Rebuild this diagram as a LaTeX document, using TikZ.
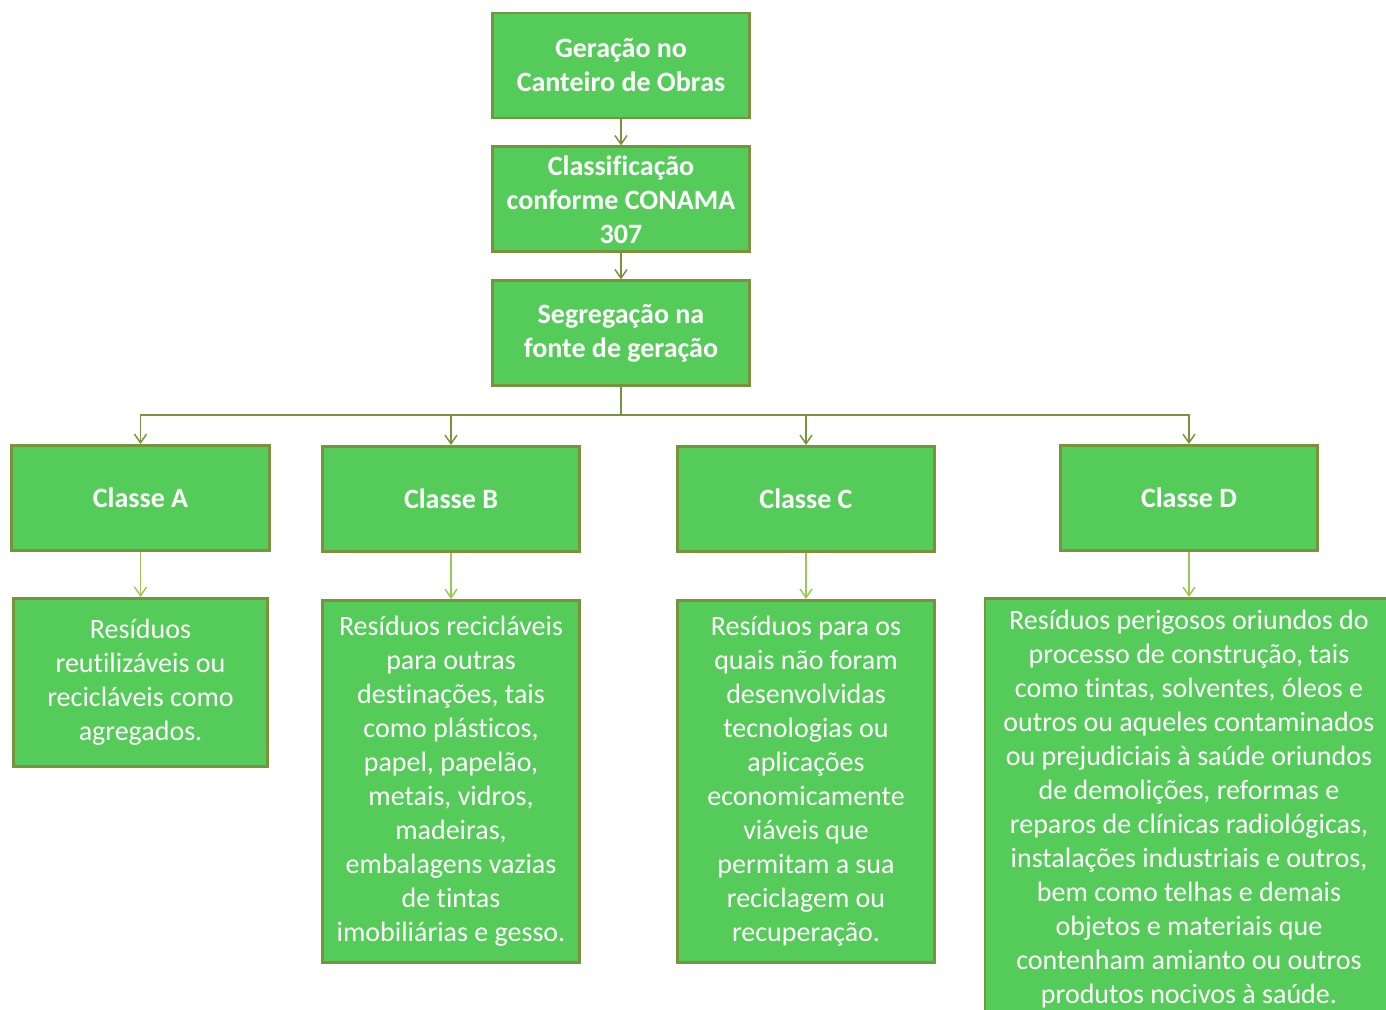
\documentclass[tikz,border=0pt]{standalone}
\usepackage{fontspec}
\setmainfont{Carlito}[Ligatures=CommonOff]
\usetikzlibrary{arrows.meta, positioning}
\definecolor{boxgreen}{HTML}{55CC5A}
\definecolor{boxedge}{HTML}{77933C}
\definecolor{lightline}{HTML}{9BC850}
\tikzset{
	block/.style={rectangle, draw=boxedge, fill=boxgreen, line width=2.2pt, text=white, align=center, font=\fontsize{21}{25.5}\selectfont, inner sep=2pt},
	head/.style={block, font=\fontsize{21}{25.5}\selectfont\bfseries, minimum width=193pt, minimum height=78.75pt},
	line/.style={draw=boxedge, line width=1.1pt, -{Straight Barb[length=6.5pt, width=9pt]}},
	subline/.style={line, draw=lightline}
}

\begin{document}
\begin{tikzpicture}[
	% one unit is one pixel of the reference
	x=0.75pt, y=-0.75pt,
	node distance=19.5pt
	]
	\clip (0,0) rectangle (1386,1010);
	
	% === NODES ===
	% Main column
	\node[head] (gen) at (621,65.5) {Geração no\\Canteiro de Obras};
	\node[head, below=of gen] (conama) {Classificação\\conforme CONAMA\\307};
	\node[head, below=of conama] (segreg) {Segregação na\\fonte de geração};
	\coordinate (bus) at (621,415);
	
	% Classes
	\node[head] (classA) at (140.5,498) {Classe A};
	\node[head] (classB) at (451,499) {Classe B};
	\node[head] (classC) at (806,499) {Classe C};
	\node[head] (classD) at (1189,498) {Classe D};
	
	% Descriptions
	\node[block, minimum width=191pt, minimum height=126pt, below=33.75pt of classA] (descA)
		{Resíduos\\reutilizáveis ou\\recicláveis como\\agregados.};
	\node[block, minimum width=193pt, minimum height=271.5pt, below=34.5pt of classB] (descB)
		{Resíduos recicláveis\\para outras\\destinações, tais\\como plásticos,\\papel, papelão,\\metais, vidros,\\madeiras,\\embalagens vazias\\de tintas\\imobiliárias e gesso.};
	\node[block, minimum width=193pt, minimum height=271.5pt, below=34.5pt of classC] (descC)
		{Resíduos para os\\quais não foram\\desenvolvidas\\tecnologias ou\\aplicações\\economicamente\\viáveis que\\permitam a sua\\reciclagem ou\\recuperação.};
	\node[block, minimum width=306pt, minimum height=316pt, below=33.75pt of classD] (descD)
		{Resíduos perigosos oriundos do\\processo de construção, tais\\como tintas, solventes, óleos e\\outros ou aqueles contaminados\\ou prejudiciais à saúde oriundos\\de demolições, reformas e\\reparos de clínicas radiológicas,\\instalações industriais e outros,\\bem como telhas e demais\\objetos e materiais que\\contenham amianto ou outros\\produtos nocivos à saúde.};
	
	% === CONNECTIONS ===
	\draw[line] (gen) -- (conama);
	\draw[line] (conama) -- (segreg);
	
	% Split into the four classes
	\draw[line] (segreg.south) -- (bus) -| (classA.north);
	\draw[line] (segreg.south) -- (bus) -| (classB.north);
	\draw[line] (segreg.south) -- (bus) -| (classC.north);
	\draw[line] (segreg.south) -- (bus) -| (classD.north);
	
	\draw[subline] (classA) -- (descA);
	\draw[subline] (classB) -- (descB);
	\draw[subline] (classC) -- (descC);
	\draw[subline] (classD) -- (descD);
\end{tikzpicture}
\end{document}
